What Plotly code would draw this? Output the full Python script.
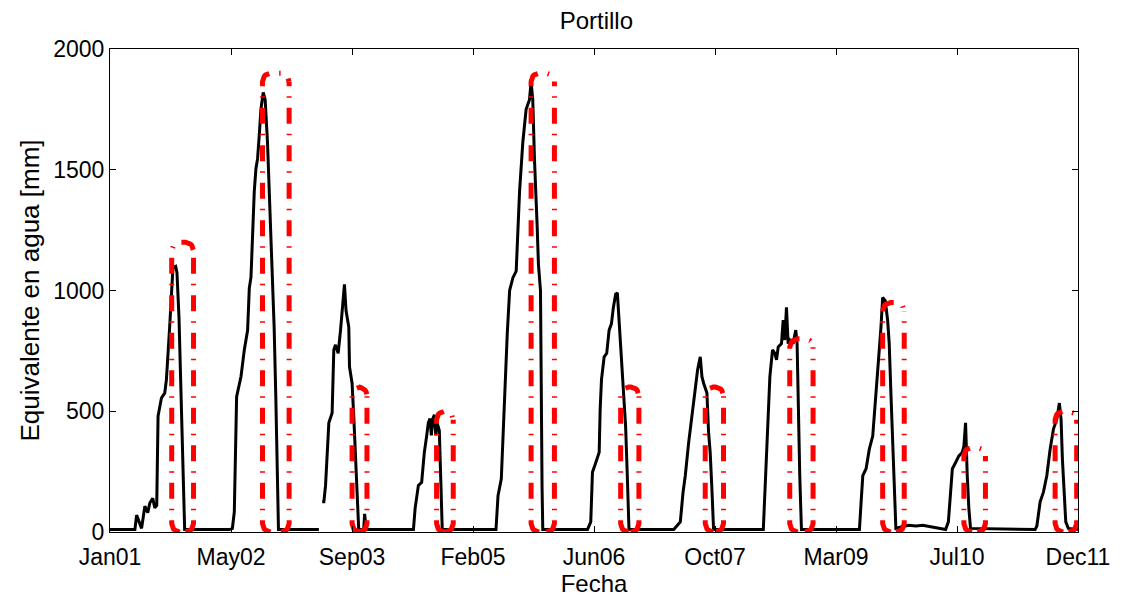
import numpy as np
import plotly.graph_objects as go

# ---- data (x in decimal years, y in mm water equivalent) ----
swe_year = [
    2001.000, 2001.281, 2001.300, 2001.356, 2001.393, 2001.426, 2001.449, 2001.482, 2001.505, 2001.527,
    2001.542, 2001.580, 2001.617, 2001.636, 2001.673, 2001.692, 2001.710, 2001.741, 2001.755, 2001.778,
    2001.804, 2001.830, 2001.842,
    2002.346, 2002.380, 2002.402, 2002.414, 2002.428, 2002.478, 2002.515, 2002.552, 2002.571, 2002.590,
    2002.608, 2002.627, 2002.646, 2002.664, 2002.683, 2002.702, 2002.728, 2002.750, 2002.776, 2002.795,
    2002.832, 2002.851, 2002.870, 2002.888, 2002.900, 2003.356, None,
    2003.393, 2003.412, 2003.431, 2003.468, 2003.505, 2003.524, 2003.543, 2003.573, 2003.600, 2003.618,
    2003.644, 2003.662, 2003.693, 2003.701, 2003.730, 2003.749, 2003.775, 2003.797, 2003.805, 2003.861,
    2003.872, 2003.889,
    2004.422, 2004.441, 2004.478, 2004.515, 2004.545, 2004.571, 2004.590, 2004.609, 2004.624, 2004.641,
    2004.658, 2004.674, 2004.691, 2004.714, 2004.740, 2004.747,
    2005.353, 2005.376, 2005.413, 2005.432, 2005.451, 2005.480, 2005.507, 2005.544, 2005.581, 2005.600,
    2005.619, 2005.656, 2005.693, 2005.731, 2005.749, 2005.768, 2005.787, 2005.817, 2005.832, 2005.855,
    2005.861, 2005.873, 2005.881,
    2006.385, 2006.422, 2006.441, 2006.479, 2006.517, 2006.528, 2006.543, 2006.573, 2006.602, 2006.629,
    2006.655, 2006.677, 2006.703, 2006.722, 2006.741, 2006.759, 2006.789, 2006.815, 2006.834, 2006.853,
    2007.358, 2007.432, 2007.463, 2007.488, 2007.526, 2007.564, 2007.589, 2007.627, 2007.657, 2007.676,
    2007.695, 2007.732, 2007.751, 2007.769, 2007.788, 2007.807,
    2008.368, 2008.386, 2008.424, 2008.442, 2008.472, 2008.498, 2008.517, 2008.536, 2008.573, 2008.592,
    2008.610, 2008.629, 2008.648, 2008.666, 2008.704, 2008.734, 2008.749, 2008.761, 2008.779, 2008.798,
    2009.452, 2009.471, 2009.490, 2009.527, 2009.564, 2009.602, 2009.639, 2009.669, 2009.695, 2009.714,
    2009.743, 2009.770, 2009.788, 2009.807, 2009.826, 2009.844, 2009.863, 2009.931, 2010.009, 2010.088,
    2010.166, 2010.256, 2010.368,
    2010.424, 2010.455, 2010.480, 2010.500, 2010.537, 2010.574, 2010.612, 2010.630, 2010.649, 2010.657,
    2010.668, 2010.686, 2010.705,
    2011.434, 2011.453, 2011.490, 2011.527, 2011.565, 2011.603, 2011.640, 2011.678, 2011.707, 2011.726,
    2011.741, 2011.763, 2011.779, 2011.808, 2011.917,
]
swe_mm = [
    10, 10, 70, 15, 107, 80, 120, 140, 100, 110,
    480, 555, 575, 630, 850, 985, 1095, 1100, 1075, 890,
    480, 70, 10,
    10, 15, 83, 400, 560, 645, 755, 835, 1010, 1055,
    1245, 1410, 1505, 1545, 1640, 1750, 1820, 1790, 1615, 1420,
    1100, 850, 560, 200, 10, 10, None,
    125, 125, 193, 452, 493, 754, 775, 740, 836, 930,
    1025, 917, 848, 684, 616, 480, 275, 57, 10, 10,
    75, 10,
    10, 98, 193, 206, 330, 397, 452, 470, 400, 470,
    485, 400, 450, 420, 140, 10,
    10, 150, 220, 385, 590, 820, 1000, 1053, 1080, 1270,
    1410, 1615, 1750, 1790, 1865, 1790, 1545, 1270, 1107, 1000,
    590, 180, 10,
    10, 42, 247, 288, 330, 508, 631, 725, 740, 836,
    862, 930, 985, 990, 877, 725, 575, 438, 233, 10,
    10, 42, 165, 233, 370, 480, 561, 672, 725, 643,
    616, 575, 411, 329, 180, 10,
    10, 165, 508, 643, 754, 740, 713, 766, 780, 877,
    795, 930, 780, 795, 780, 836, 780, 508, 233, 10,
    10, 125, 233, 262, 344, 397, 575, 713, 848, 971,
    958, 877, 780, 575, 370, 165, 15, 22, 28, 25,
    28, 22, 15,
    10, 42, 180, 262, 288, 315, 330, 356, 452, 344,
    233, 98, 15,
    10, 25, 125, 165, 233, 344, 426, 467, 534, 467,
    303, 125, 42, 15, 10,
]

# measured snow-course pulses: start, end, value
rect_start = [2001.696, 2002.720, 2003.730, 2004.683, 2005.749, 2006.759, 2007.713, 2008.666, 2009.714, 2010.630, 2011.659]
rect_end   = [2001.942, 2003.020, 2003.898, 2004.871, 2006.012, 2006.965, 2007.919, 2008.929, 2009.957, 2010.873, 2011.902]
rect_mm    = [1200, 1900, 600, 500, 1900, 600, 600, 800, 950, 350, 500]

x_start, x_end = 2001.0, 2011.917
tick_labels = ["Jan01", "May02", "Sep03", "Feb05", "Jun06", "Oct07", "Mar09", "Jul10", "Dec11"]
tick_vals = list(np.linspace(x_start, x_end, len(tick_labels)))

FONT = "Liberation Sans, Arial, Helvetica, sans-serif"

fig = go.Figure()
fig.add_trace(go.Scatter(
    x=swe_year, y=swe_mm, mode="lines",
    line=dict(color="black", width=3),
    connectgaps=False, showlegend=False, hoverinfo="skip",
))

# rounded-rectangle outlines built from each pulse (corner radius in data units)
rx, ry = 0.09, 35.0
t = np.linspace(0, np.pi / 2, 8)
ox, oy = [], []
for x0, x1, v in zip(rect_start, rect_end, rect_mm):
    # left piece: bottom-left corner, left edge, top-left corner, top, top-right corner
    px = list(x0 + rx - rx * np.sin(t)); py = list(ry - ry * np.cos(t))
    px += [x0]; py += [v - ry]
    px += list(x0 + rx - rx * np.cos(t)); py += list(v - ry + ry * np.sin(t))
    px += [x1 - rx]; py += [v]
    px += list(x1 - rx + rx * np.sin(t)); py += list(v - ry + ry * np.cos(t))
    ox += px + [None]; oy += py + [None]
    # right piece: bottom-right corner then right edge going up
    px = list(x1 - rx + rx * np.sin(t)); py = list(ry - ry * np.cos(t))
    px += [x1]; py += [v - ry]
    ox += px + [None]; oy += py + [None]

fig.add_trace(go.Scatter(
    x=ox, y=oy, mode="lines",
    line=dict(color="#ff0000", width=5, dash="16px,10px,1.5px,10px"),
    connectgaps=False, showlegend=False, hoverinfo="skip",
))

fig.update_layout(
    width=1122, height=599,
    margin=dict(l=110, r=39, t=49, b=62),
    paper_bgcolor="white", plot_bgcolor="white",
    font=dict(family=FONT, size=23, color="black"),
    title=dict(text="Portillo", x=0.5315, xanchor="center", y=1 - 21 / 599, yanchor="middle",
               yref="container", font=dict(size=24, family=FONT)),
    showlegend=False,
)
fig.update_xaxes(
    range=[x_start, x_end], tickmode="array", tickvals=tick_vals, ticktext=tick_labels,
    showline=True, linecolor="black", linewidth=1.2, mirror="ticks",
    ticks="inside", ticklen=6, tickcolor="black", showgrid=False, zeroline=False,
    tickfont=dict(size=23), ticklabelstandoff=4,
    title=dict(text="Fecha", standoff=0, font=dict(size=24)),
)
fig.update_yaxes(
    range=[0, 2000], tickmode="array", tickvals=[0, 500, 1000, 1500, 2000],
    showline=True, linecolor="black", linewidth=1.2, mirror="ticks",
    ticks="inside", ticklen=6, tickcolor="black", showgrid=False, zeroline=False,
    tickfont=dict(size=23),
    title=dict(text="Equivalente en agua [mm]", standoff=6, font=dict(size=26)),
)

fig.write_html("out.html")
